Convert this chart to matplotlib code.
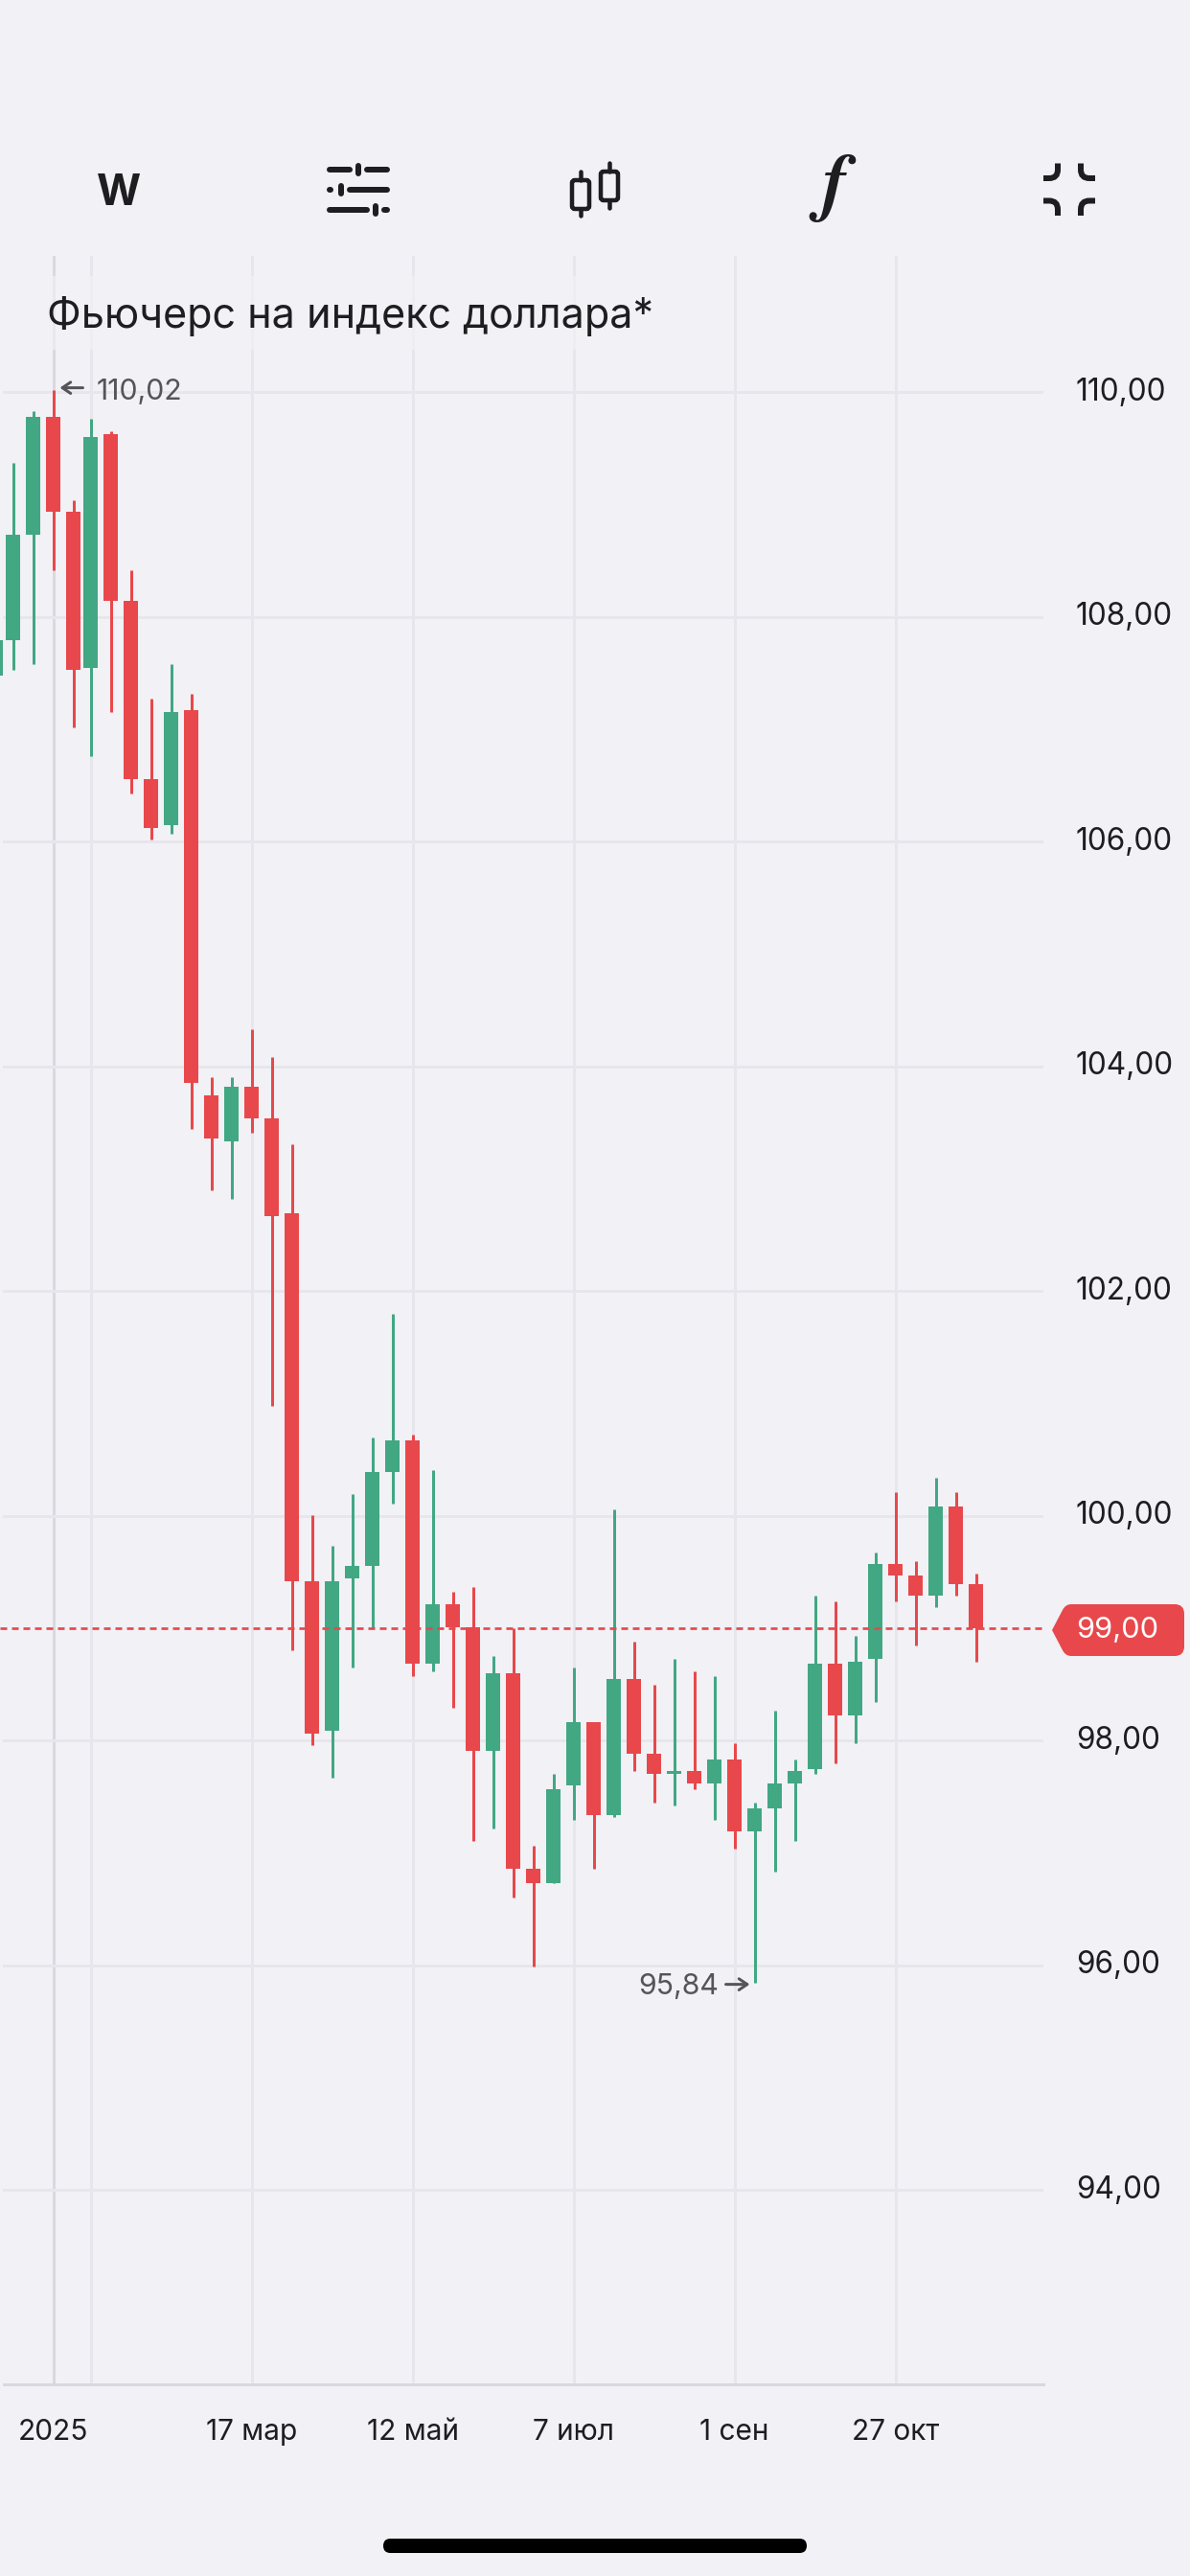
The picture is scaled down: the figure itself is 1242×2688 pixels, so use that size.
import numpy as np
import matplotlib
matplotlib.use("Agg")
import matplotlib.pyplot as plt
from matplotlib.patches import PathPatch, Rectangle, FancyBboxPatch
from matplotlib.path import Path

plt.rcParams['font.family'] = ['Inter', 'DejaVu Sans']

# weekly candles
week_pos = [-4.714, -3.857, -2.857, -1.857, -0.857, 0, 1, 2, 3, 4, 5, 6, 7, 8, 9, 10, 11, 12, 13, 14, 15, 16,
            17, 18, 19, 20, 21, 22, 23, 24, 25, 26, 27, 28, 29, 30, 31, 32, 33, 34, 35, 36, 37, 38, 39, 40, 41,
            42, 43, 44]
open_ = [107.48, 107.79, 108.73, 109.78, 108.94, 107.55, 109.63, 108.14, 106.56, 106.15,
         107.17, 103.74, 103.33, 103.82, 103.54, 102.69, 99.42, 98.09, 99.44, 99.55,
         100.39, 100.67, 98.68, 99.21, 99.01, 97.91, 98.60, 96.86, 96.73, 97.60,
         98.16, 97.34, 98.55, 97.88, 97.70, 97.73, 97.62, 97.83, 97.19, 97.40,
         97.62, 97.75, 98.68, 98.22, 98.73, 99.57, 99.47, 99.29, 100.08, 99.39]
high = [107.79, 109.37, 109.83, 110.02, 109.04, 109.76, 109.65, 108.42, 107.27, 107.58,
        107.32, 103.90, 103.90, 104.33, 104.08, 103.31, 100.01, 99.73, 100.19, 100.70,
        101.80, 100.72, 100.41, 99.32, 99.37, 98.75, 99.00, 97.06, 97.70, 98.65,
        98.16, 100.06, 98.88, 98.50, 98.73, 98.62, 98.57, 97.98, 97.45, 98.27,
        97.83, 99.29, 99.24, 98.93, 99.67, 100.21, 99.60, 100.34, 100.21, 99.49]
low = [107.48, 107.53, 107.58, 108.42, 107.02, 106.76, 107.15, 106.43, 106.02, 106.07,
       103.44, 102.90, 102.82, 103.41, 100.98, 98.80, 97.96, 97.67, 98.65, 99.00,
       100.11, 98.57, 98.62, 98.29, 97.11, 97.22, 96.60, 95.99, 96.73, 97.29,
       96.86, 97.32, 97.73, 97.45, 97.42, 97.57, 97.29, 97.04, 95.84, 96.83,
       97.11, 97.70, 97.80, 97.98, 98.34, 99.24, 98.85, 99.19, 99.29, 98.70]
close = [107.79, 108.73, 109.78, 108.94, 107.53, 109.60, 108.14, 106.56, 106.12, 107.15,
         103.85, 103.36, 103.82, 103.54, 102.67, 99.42, 98.06, 99.42, 99.55, 100.39,
         100.67, 98.68, 99.21, 99.01, 97.91, 98.60, 96.86, 96.73, 97.57, 98.16,
         97.34, 98.55, 97.88, 97.70, 97.73, 97.62, 97.83, 97.19, 97.40, 97.62,
         97.73, 98.68, 98.22, 98.70, 99.57, 99.47, 99.29, 100.08, 99.39, 99.00]

price_ticks = [94, 96, 98, 100, 102, 104, 106, 108, 110]
date_ticks = [-1.857, 0, 8, 16, 24, 32, 40]
date_labels = ['2025', '', '17 мар', '12 май', '7 июл', '1 сен', '27 окт']
last_price = 99.00
title = 'Фьючерс на индекс доллара*'

BG = '#F1F1F6'
GREEN = '#42A783'
RED = '#E8484B'
GRID = '#E6E6EC'
DARK = '#1E1E21'
GRAY = '#555558'
W, H = 1242, 2688
PX = 0.72  # points per pixel at dpi 100


def comma(v):
    return f'{v:.2f}'.replace('.', ',')


fig = plt.figure(figsize=(W / 100, H / 100), dpi=100, facecolor=BG)

# overlay in pixel coordinates for the app chrome (toolbar, badge, home bar)
top = fig.add_axes([0, 0, 1, 1], zorder=3)
top.set_xlim(0, W)
top.set_ylim(H, 0)
top.axis('off')

# chart area: 0..1089 px wide, 267..2488 px high
ax = fig.add_axes([0, 1 - 2488 / H, 1089 / W, (2488 - 267) / H], zorder=1)
ax.set_facecolor('none')
ax.set_xlim(-4.5, 47.357)
ax.set_ylim(92.27, 111.214)
for name in ['left', 'right', 'top']:
    ax.spines[name].set_visible(False)
ax.spines['bottom'].set_color('#D8D8DF')
ax.spines['bottom'].set_linewidth(3 * PX)
ax.spines['bottom'].set_bounds(-4.31, 47.357)

ax.set_yticks(price_ticks)
ax.set_yticklabels([comma(v) for v in price_ticks])
ax.set_xticks(date_ticks)
ax.set_xticklabels(date_labels)
ax.yaxis.tick_right()
ax.tick_params(axis='y', length=0, pad=34 * PX, labelsize=22.7, labelcolor=DARK)
ax.tick_params(axis='x', length=0, pad=36 * PX, labelsize=21.5, labelcolor=DARK)
for lab in ax.get_yticklabels():
    lab.set_verticalalignment('center')
ax.grid(True, color=GRID, linewidth=3 * PX, zorder=0)
ax.set_axisbelow(True)
for tick in ax.yaxis.get_major_ticks():
    tick.gridline.set_xdata([4 / 1089, 1])
ax.xaxis.get_major_ticks()[0].gridline.set_color('#D9D9E0')

# band behind the title washes out the grid
ax.add_patch(Rectangle((0, 1 - (365 - 267) / (2488 - 267)), 690 / 1089, (365 - 288) / (2488 - 267),
                       transform=ax.transAxes, facecolor=BG, alpha=0.65, edgecolor='none', zorder=1))

colors = [GREEN if c >= o else RED for o, c in zip(open_, close)]
ax.vlines(week_pos, low, high, colors=colors, linewidth=3 * PX, zorder=3)
bottoms = np.minimum(open_, close)
heights = np.abs(np.array(close) - np.array(open_))
ax.bar(week_pos, heights, bottom=bottoms, width=15 / 21, color=colors, linewidth=0, zorder=3)

ax.plot([-4.5, 47.26], [last_price, last_price], color=RED, linewidth=2.7 * PX, zorder=4,
        dashes=(7 / 2.7, 5 / 2.7), dash_capstyle='butt')

# extremes
i_hi = int(np.argmax(high))
i_lo = int(np.argmin(low))
arrow = dict(arrowstyle='->,head_length=0.62,head_width=0.42', color=GRAY, lw=3 * PX, shrinkA=0, shrinkB=5)
ax.annotate(comma(high[i_hi]), xy=(week_pos[i_hi], high[i_hi]), xytext=(45 * PX, -2 * PX),
            textcoords='offset points', fontsize=21.8, color=GRAY, va='center', ha='left', zorder=5)
ax.annotate('', xy=(week_pos[i_hi], high[i_hi] + 0.02), xytext=(31 * PX, 0), textcoords='offset points',
            arrowprops=arrow)
ax.annotate(comma(low[i_lo]), xy=(week_pos[i_lo], low[i_lo]), xytext=(-37 * PX, -4 * PX),
            textcoords='offset points', fontsize=21.8, color=GRAY, va='center', ha='right', zorder=5)
ax.annotate('', xy=(week_pos[i_lo], low[i_lo] - 0.01), xytext=(-30 * PX, 0), textcoords='offset points',
            arrowprops=dict(arrow, shrinkB=3.6))

top.text(49, 330, title, fontsize=31, color=DARK, va='center', ha='left')

# price badge
verts = [(1098, 1701), (1109, 1680), (1112, 1674), (1118, 1674), (1226, 1674), (1236, 1674), (1236, 1684),
         (1236, 1718), (1236, 1728), (1226, 1728), (1118, 1728), (1112, 1728), (1109, 1722), (1098, 1701)]
codes = [Path.MOVETO, Path.LINETO, Path.CURVE3, Path.CURVE3, Path.LINETO, Path.CURVE3, Path.CURVE3,
         Path.LINETO, Path.CURVE3, Path.CURVE3, Path.LINETO, Path.CURVE3, Path.CURVE3, Path.LINETO]
top.add_patch(PathPatch(Path(verts, codes), facecolor=RED, edgecolor='none'))
top.text(1123, 1701, comma(last_price), fontsize=22.2, color='white', va='center', ha='left')

# toolbar icons
top.text(124, 202, 'W', fontsize=32, fontweight='bold', color=DARK, ha='center', va='center')


def stroke(x0, y0, x1, y1, lw=6, cap='round'):
    top.plot([x0, x1], [y0, y1], color=DARK, linewidth=lw * PX, solid_capstyle=cap)


for yy, segs, knob in [(176.7, [(344, 365), (383, 404)], 374),
                       (197.7, [(344, 345), (365, 404)], 356),
                       (219, [(344, 383), (401, 404)], 392)]:
    for a, b in segs:
        stroke(a, yy, b, yy)
    stroke(knob, yy - 4, knob, yy + 4, lw=6)

for cx, y0, y1, w0, w1 in [(606, 188, 218, 177, 227), (636, 179, 209, 168, 219)]:
    top.add_patch(FancyBboxPatch((cx - 9, y0), 18, y1 - y0, boxstyle='round,pad=0,rounding_size=3',
                                 facecolor='none', edgecolor=DARK, linewidth=4.5 * PX))
    stroke(cx, w0 + 2, cx, y0, lw=4.5)
    stroke(cx, y1, cx, w1 - 2, lw=4.5)

top.text(871, 196, 'f', family='STIXGeneral', style='italic', fontweight='bold', fontsize=57, color=DARK,
         ha='center', va='center')

corner_codes = [Path.MOVETO, Path.LINETO, Path.CURVE3, Path.CURVE3, Path.LINETO]
for sx, sy, ox, oy in [(1, 1, 1089, 186), (-1, 1, 1143, 186), (1, -1, 1089, 209.5), (-1, -1, 1143, 209.5)]:
    pts = [(ox, oy), (ox + sx * 6, oy), (ox + sx * 15, oy), (ox + sx * 15, oy - sy * 9), (ox + sx * 15, oy - sy * 15.5)]
    top.add_patch(PathPatch(Path(pts, corner_codes), facecolor='none', edgecolor=DARK, linewidth=6 * PX,
                            capstyle='butt'))

# home indicator
top.add_patch(FancyBboxPatch((400, 2649), 442, 15, boxstyle='round,pad=0,rounding_size=7.5', facecolor='black',
                             edgecolor='none'))

fig.savefig('out.png', dpi=100, facecolor=BG)
